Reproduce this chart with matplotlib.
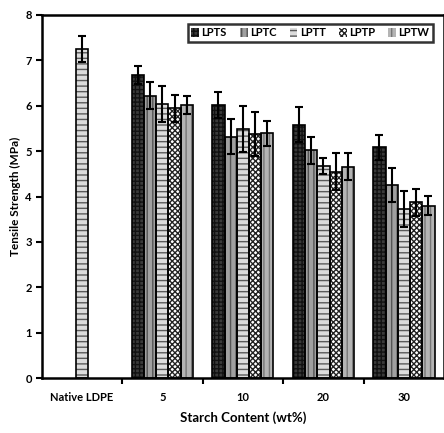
import numpy as np
import matplotlib
matplotlib.use('Agg')
import matplotlib.pyplot as plt

plt.rcParams['font.family'] = ['Lato', 'DejaVu Sans']
plt.rcParams['hatch.linewidth'] = 1.0

# data
groups = ['Native LDPE', '5', '10', '20', '30']
series = ['LPTS', 'LPTC', 'LPTT', 'LPTP', 'LPTW']
native_val = 7.25
native_err = 0.28
lpts = [6.68, 6.01, 5.58, 5.08]
lpts_err = [0.2, 0.28, 0.38, 0.28]
lptc = [6.22, 5.32, 5.02, 4.26]
lptc_err = [0.3, 0.38, 0.3, 0.37]
lptt = [6.03, 5.49, 4.67, 3.73]
lptt_err = [0.4, 0.5, 0.18, 0.4]
lptp = [5.94, 5.38, 4.55, 3.87]
lptp_err = [0.3, 0.49, 0.4, 0.29]
lptw = [6.02, 5.39, 4.66, 3.8]
lptw_err = [0.2, 0.28, 0.3, 0.21]

vals = [lpts, lptc, lptt, lptp, lptw]
errs = [lpts_err, lptc_err, lptt_err, lptp_err, lptw_err]
faces = ['#3a3a3a', '#a0a0a0', '#dcdcdc', '#ffffff', '#b4b4b4']
hatches = ['++++', '|||', '---', 'xxxxxx', '|||']
hatch_cols = ['#111111', '#555555', '#5a5a5a', '#222222', '#777777']

fig = plt.figure(figsize=(4.44, 4.33), dpi=100)
ax = fig.add_axes([0.0935, 0.1263, 0.907, 0.8397])

w = 0.152
x = np.arange(1, 5)
for i in range(5):
    offs = (i - 2) * w
    ax.bar(x + offs, vals[i], w, color=faces[i], edgecolor=hatch_cols[i],
           hatch=hatches[i], linewidth=0, label=series[i], zorder=2)
    ax.bar(x + offs, vals[i], w, color='none', edgecolor='black', linewidth=1.2, zorder=3)
    ax.errorbar(x + offs, vals[i], yerr=errs[i], fmt='none', ecolor='black',
                elinewidth=1.5, capsize=3, capthick=1.5, zorder=4)

# native LDPE single bar (in LPTT position)
ax.bar(0, native_val, w, color=faces[2], edgecolor=hatch_cols[2], hatch=hatches[2],
       linewidth=0, zorder=2)
ax.bar(0, native_val, w, color='none', edgecolor='black', linewidth=1.2, zorder=3)
ax.errorbar(0, native_val, yerr=native_err, fmt='none', ecolor='black',
            elinewidth=1.5, capsize=3, capthick=1.5, zorder=4)

ax.set_xlim(-0.5, 4.5)
ax.set_ylim(0, 8)
ax.set_yticks(range(0, 9))
ax.set_xticks(np.arange(0.5, 4.5, 1.0))
ax.set_xticklabels([])
ax.set_xticks(np.arange(0, 5), minor=True)
ax.set_xticklabels(groups, minor=True, fontsize=8, fontweight='bold')
ax.tick_params(axis='x', which='minor', length=0, pad=10)
ax.tick_params(axis='x', which='major', length=4, width=1.5, direction='out')
ax.tick_params(axis='y', length=4, width=1.5, direction='out', labelsize=8, pad=3)
for lab in ax.get_yticklabels():
    lab.set_fontweight('bold')
for s in ax.spines.values():
    s.set_linewidth(1.8)

ax.set_ylabel('Tensile Strength (MPa)', fontsize=8.5, fontweight='bold', labelpad=3)
ax.set_xlabel('Starch Content (wt%)', fontsize=9.5, fontweight='bold', labelpad=6)

leg = ax.legend(loc='upper right', ncol=5, fontsize=8, frameon=True, fancybox=False,
                edgecolor='black', handlelength=0.7, handleheight=0.8, handletextpad=0.2,
                columnspacing=1.2, borderpad=0.3, bbox_to_anchor=(0.985, 0.99))
leg.get_frame().set_linewidth(1.8)
for t in leg.get_texts():
    t.set_fontweight('bold')

fig.savefig('out.png', dpi=100)
